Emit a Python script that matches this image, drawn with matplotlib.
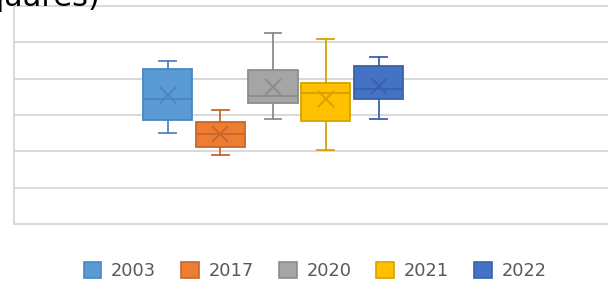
import matplotlib.pyplot as plt
from matplotlib.patches import Patch

# box plot summary values per year
years = ['2003', '2017', '2020', '2021', '2022']
whisker_low = [2.50, 1.90, 2.90, 2.04, 2.90]
q1 = [2.86, 2.13, 3.33, 2.84, 3.44]
medians = [3.43, 2.48, 3.51, 3.60, 3.72]
q3 = [4.27, 2.80, 4.23, 3.89, 4.34]
whisker_high = [4.49, 3.14, 5.25, 5.09, 4.59]
means = [3.55, 2.48, 3.76, 3.44, 3.81]

fills = ['#5B9BD5', '#ED7D31', '#A5A5A5', '#FFC000', '#4472C4']
edges = ['#4A86C0', '#C9662B', '#8C8C8C', '#D6A200', '#3A62AB']

fig = plt.figure(figsize=(6.08, 2.84), dpi=100)
W, H = 608, 284
unit_y = 218 / 6
y0_px = 224 + 0.05 * unit_y
y1_px = 6 - 0.05 * unit_y
ax = fig.add_axes([14 / W, 1 - y0_px / H, 1 - 14 / W, (y0_px - y1_px) / H])

stats = []
for i in range(len(years)):
    stats.append({'whislo': whisker_low[i], 'q1': q1[i], 'med': medians[i],
                  'q3': q3[i], 'whishi': whisker_high[i], 'mean': means[i],
                  'fliers': []})

for i, s in enumerate(stats):
    ax.bxp([s], positions=[i], widths=0.93, capwidths=0.32,
           patch_artist=True, showmeans=True,
           boxprops=dict(facecolor=fills[i], edgecolor=edges[i], linewidth=1.3),
           medianprops=dict(color=edges[i], linewidth=1.3),
           whiskerprops=dict(color=edges[i], linewidth=1.3),
           capprops=dict(color=edges[i], linewidth=1.3),
           meanprops=dict(marker='x', markeredgecolor=edges[i], markersize=12,
                          markeredgewidth=1.4),
           zorder=3)

ax.set_xlim(-2.91, 8.35)
ax.set_ylim(-0.05, 6.05)
ax.set_yticks(range(0, 7))
ax.grid(axis='y', color='#D9D9D9', linewidth=1.4, zorder=0)
ax.set_axisbelow(True)
ax.tick_params(left=False, bottom=False, labelleft=False, labelbottom=False)
for side in ['top', 'right', 'bottom']:
    ax.spines[side].set_visible(False)
ax.spines['left'].set_color('#D9D9D9')
ax.spines['left'].set_linewidth(1.4)
ax.spines['left'].set_bounds(0, 6)

# title is cropped off at the top in the original, only its tail shows
fig.text(100 / W, 1 - 6 / H, 'quares)', ha='right', va='baseline',
         fontsize=22, color='black')

handles = [Patch(facecolor=fills[i], edgecolor=edges[i], linewidth=1.2)
           for i in range(len(years))]
fig.legend(handles, years, loc='center', bbox_to_anchor=(315 / W, 1 - 271 / H),
           ncol=5, frameon=False, fontsize=12.8, handlelength=1.0,
           handleheight=1.0, handletextpad=0.55, columnspacing=1.4,
           labelcolor='#595959', borderpad=0)

fig.savefig('out.png', dpi=100)
